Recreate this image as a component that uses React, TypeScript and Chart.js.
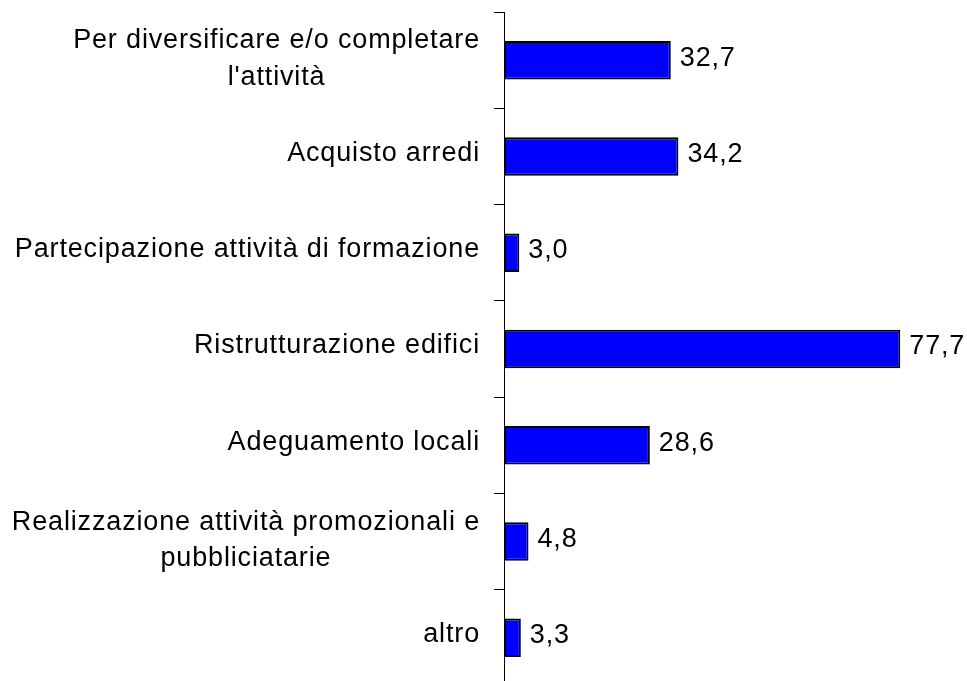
import React, { useEffect, useRef } from "react";
import { Chart, registerables } from "chart.js";

Chart.register(...registerables);

const categoryLines: string[][] = [
  ["Per diversificare e/o completare", "l'attività"],
  ["Acquisto arredi"],
  ["Partecipazione attività di formazione"],
  ["Ristrutturazione edifici"],
  ["Adeguamento locali"],
  ["Realizzazione attività promozionali e", "pubbliciatarie"],
  ["altro"],
];
const values = [32.7, 34.2, 3.0, 77.7, 28.6, 4.8, 3.3];
const valueLabels = ["32,7", "34,2", "3,0", "77,7", "28,6", "4,8", "3,3"];
const xMin = 0;
const xMax = 90;

const FONT = '27px "Liberation Sans", Arial, sans-serif';

const labelPlugin = {
  id: "customLabels",
  afterDraw(chart: any) {
    const ctx = chart.ctx as CanvasRenderingContext2D;
    const yScale = chart.scales.y;
    const meta = chart.getDatasetMeta(0);
    ctx.save();
    ctx.font = FONT;
    ctx.fillStyle = "#000000";
    ctx.textBaseline = "middle";
    (ctx as any).letterSpacing = "0.85px";
    const rightEdge = yScale.right - 24;
    categoryLines.forEach((lines, i) => {
      const multi = lines.length > 1;
      const cy = yScale.getPixelForValue(i) - 3 + (multi ? 2 : 0);
      const widths = lines.map((l) => ctx.measureText(l).width);
      const maxW = Math.max(...widths);
      const cx = rightEdge - maxW / 2;
      ctx.textAlign = "center";
      const lh = 36.5;
      lines.forEach((l, j) => {
        ctx.fillText(l, cx, cy + (j - (lines.length - 1) / 2) * lh);
      });
    });
    meta.data.forEach((bar: any, i: number) => {
      ctx.textAlign = "left";
      ctx.fillText(valueLabels[i], bar.x + 9, bar.y - 2);
    });
    ctx.restore();
  },
};

export default function App() {
  const canvasRef = useRef<HTMLCanvasElement | null>(null);

  useEffect(() => {
    if (!canvasRef.current) return;
    const chart = new Chart(canvasRef.current, {
      type: "bar",
      data: {
        labels: categoryLines.map((l) => l.join(" ")),
        datasets: [
          {
            data: values,
            backgroundColor: "#0000FF",
            borderColor: "#000000",
            borderWidth: 2,
            borderSkipped: false,
            barPercentage: 0.4,
            categoryPercentage: 1,
          },
        ],
      },
      options: {
        indexAxis: "y",
        animation: false,
        responsive: false,
        devicePixelRatio: 1,
        layout: { padding: { top: 12, bottom: 14.25, right: 4, left: 0 } },
        plugins: {
          legend: { display: false },
          tooltip: { enabled: false },
          title: { display: false },
        },
        scales: {
          x: {
            display: false,
            min: xMin,
            max: xMax,
          },
          y: {
            position: "left",
            afterFit: (scale: any) => {
              scale.width = 504;
            },
            ticks: { display: false },
            grid: {
              display: true,
              offset: true,
              drawOnChartArea: false,
              drawTicks: true,
              tickLength: 10,
              color: "#000000",
              lineWidth: 1,
            },
            border: { display: true, color: "#000000", width: 1 },
          },
        },
      },
      plugins: [labelPlugin],
    });
    return () => chart.destroy();
  }, []);

  return (
    <div
      style={{
        position: "fixed",
        left: 0,
        top: 0,
        width: 967,
        height: 681,
        overflow: "hidden",
        background: "#ffffff",
      }}
    >
      <canvas ref={canvasRef} width={967} height={700} />
    </div>
  );
}
